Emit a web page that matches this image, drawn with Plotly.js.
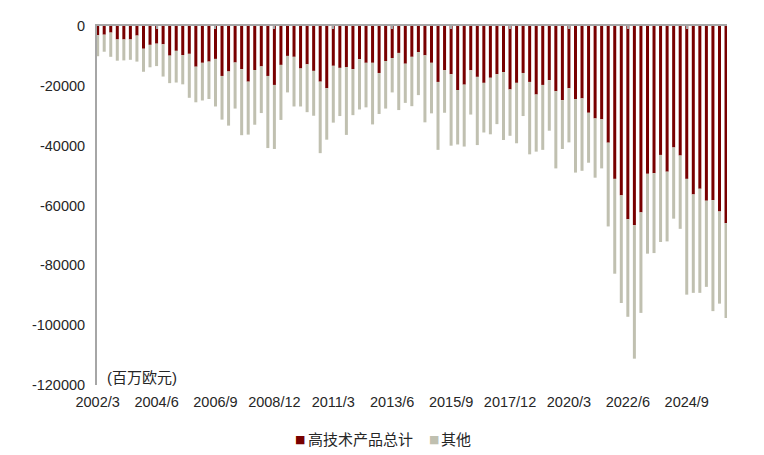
<!DOCTYPE html>
<html>
<head>
<meta charset="utf-8">
<script src="https://cdn.plot.ly/plotly-3.0.1.min.js"></script>
<style>
  html, body { margin: 0; padding: 0; background: #fff; }
  #chart { width: 764px; height: 455px; }
</style>
</head>
<body>
<div id="chart"></div>
<script>
// quarters, 2002/3 .. 2026/3
const quarters = [
  '2002/3', '2002/6', '2002/9', '2002/12', '2003/3', '2003/6', '2003/9', '2003/12',
  '2004/3', '2004/6', '2004/9', '2004/12', '2005/3', '2005/6', '2005/9', '2005/12',
  '2006/3', '2006/6', '2006/9', '2006/12', '2007/3', '2007/6', '2007/9', '2007/12',
  '2008/3', '2008/6', '2008/9', '2008/12', '2009/3', '2009/6', '2009/9', '2009/12',
  '2010/3', '2010/6', '2010/9', '2010/12', '2011/3', '2011/6', '2011/9', '2011/12',
  '2012/3', '2012/6', '2012/9', '2012/12', '2013/3', '2013/6', '2013/9', '2013/12',
  '2014/3', '2014/6', '2014/9', '2014/12', '2015/3', '2015/6', '2015/9', '2015/12',
  '2016/3', '2016/6', '2016/9', '2016/12', '2017/3', '2017/6', '2017/9', '2017/12',
  '2018/3', '2018/6', '2018/9', '2018/12', '2019/3', '2019/6', '2019/9', '2019/12',
  '2020/3', '2020/6', '2020/9', '2020/12', '2021/3', '2021/6', '2021/9', '2021/12',
  '2022/3', '2022/6', '2022/9', '2022/12', '2023/3', '2023/6', '2023/9', '2023/12',
  '2024/3', '2024/6', '2024/9', '2024/12', '2025/3', '2025/6', '2025/9', '2025/12',
  '2026/3',
];

// 高技术产品总计 (百万欧元)
const hiTech = [
  -3100, -2900, -2200, -4500, -4500, -4500, -3200, -7600,
  -6300, -5900, -6100, -9900, -8300, -9700, -9300, -13600,
  -12300, -11900, -11000, -16700, -15200, -12200, -14400, -18600,
  -14700, -13500, -16700, -19700, -13000, -10000, -10300, -14200,
  -12800, -15000, -18600, -20800, -13300, -14000, -13700, -14400,
  -11100, -12300, -12300, -15700, -11700, -10700, -9000, -12600,
  -10300, -8700, -9800, -12300, -18700, -14800, -16100, -21400,
  -19600, -14800, -17000, -19000, -17300, -16100, -15400, -21200,
  -19000, -15700, -18700, -22900, -19700, -18100, -21800, -24800,
  -20800, -24400, -24200, -29000, -30900, -31200, -39000, -51100,
  -56600, -64600, -66600, -62300, -49400, -49200, -43100, -48700,
  -40600, -43300, -51100, -56300, -54400, -58400, -58200, -62000,
  -65900,
];

// 其他 (百万欧元)
const other = [
  -7000, -5700, -8100, -7100, -7000, -6800, -8700, -7700,
  -7500, -7500, -10800, -9200, -10600, -9800, -14700, -11900,
  -12600, -12500, -15900, -14600, -18100, -15400, -22100, -17700,
  -18300, -15600, -24100, -21400, -18400, -12200, -16600, -12700,
  -16000, -15000, -23900, -17200, -19000, -16100, -22700, -15400,
  -16800, -14900, -20600, -13700, -15900, -11500, -19100, -13100,
  -16500, -14400, -22400, -16900, -22700, -14200, -23900, -18200,
  -20700, -14800, -22800, -16600, -18900, -16700, -22700, -15500,
  -20200, -14400, -24200, -19100, -21700, -16900, -25800, -16300,
  -18100, -24600, -24200, -16700, -19800, -16400, -28000, -31700,
  -36000, -32600, -44600, -33600, -26700, -26700, -29100, -23300,
  -23800, -24500, -38700, -32900, -34800, -28800, -37100, -30800,
  -31700,
];

const tickQuarters = ['2002/3', '2004/6', '2006/9', '2008/12', '2011/3', '2013/6',
  '2015/9', '2017/12', '2020/3', '2022/6', '2024/9'];
const yTicks = [0, -20000, -40000, -60000, -80000, -100000, -120000];
const yTickText = ['0', '-20000', '-40000', '-60000', '-80000', '-100000', '-120000'];

const textFont = 'Liberation Sans, Arial, Noto Sans CJK SC, sans-serif';
const axisGrey = '#A6A6A6';
const hiTechColor = '#780000';
const otherColor = '#C0C0B0';
const xRange = [-0.1, quarters.length - 0.85];

// 其他 sits on top of 高技术产品总计 (base), on the overlaid top axis
// so that axis (line + small ticks at the top) gets drawn
const traces = [
  {
    x: quarters,
    y: hiTech,
    name: '高技术产品总计',
    type: 'bar',
    marker: { color: hiTechColor },
    hovertemplate: '%{x}: %{y}<extra></extra>',
  },
  {
    x: quarters,
    y: other,
    base: hiTech,
    name: '其他',
    type: 'bar',
    xaxis: 'x2',
    marker: { color: otherColor },
    hovertemplate: '%{x}: %{y}<extra></extra>',
  },
];

// legend drawn as text so the small squares match the original
const legendMark = (color, x) => ({
  text: '■',
  xref: 'paper',
  yref: 'paper',
  x: x,
  y: -0.153,
  xanchor: 'center',
  yanchor: 'middle',
  showarrow: false,
  font: { size: 11, color: color, family: 'DejaVu Sans' },
});
const legendLabel = (label, x) => ({
  text: label,
  xref: 'paper',
  yref: 'paper',
  x: x,
  y: -0.153,
  xanchor: 'left',
  yanchor: 'middle',
  showarrow: false,
  font: { size: 15 },
});

const layout = {
  width: 764,
  height: 455,
  margin: { l: 97, r: 37, t: 26, b: 70 },
  paper_bgcolor: '#fff',
  plot_bgcolor: '#fff',
  barmode: 'relative',
  bargap: 0.54,
  font: { family: textFont, size: 14.5, color: '#262626' },
  xaxis: {
    type: 'category',
    categoryorder: 'array',
    categoryarray: quarters,
    range: xRange,
    tickvals: tickQuarters,
    ticktext: tickQuarters,
    tickangle: 0,
    ticks: '',
    ticklabelstandoff: 6,
    showline: false,
    showgrid: false,
    zeroline: false,
  },
  xaxis2: {
    type: 'category',
    categoryorder: 'array',
    categoryarray: quarters,
    range: xRange,
    overlaying: 'x',
    anchor: 'y',
    side: 'top',
    tickvals: tickQuarters,
    showticklabels: false,
    ticks: 'inside',
    ticklen: 3,
    tickwidth: 2,
    tickcolor: axisGrey,
    showline: true,
    linecolor: axisGrey,
    linewidth: 2,
    layer: 'above traces',
    showgrid: false,
    zeroline: false,
  },
  yaxis: {
    range: [-120000, 0],
    tickvals: yTicks,
    ticktext: yTickText,
    ticks: '',
    ticklabelstandoff: 7,
    showline: true,
    linecolor: axisGrey,
    linewidth: 2,
    showgrid: false,
    zeroline: false,
  },
  showlegend: false,
  annotations: [
    {
      text: '(百万欧元)',
      xref: 'paper',
      yref: 'paper',
      x: 0.012,
      y: 0.02,
      xanchor: 'left',
      yanchor: 'middle',
      showarrow: false,
      font: { size: 15 },
    },
    legendMark(hiTechColor, 0.3222),
    legendLabel('高技术产品总计', 0.3317),
    legendMark(otherColor, 0.5349),
    legendLabel('其他', 0.5428),
  ],
};

const config = {
  displayModeBar: false,
  staticPlot: true,
};

Plotly.newPlot('chart', traces, layout, config);
</script>
</body>
</html>
